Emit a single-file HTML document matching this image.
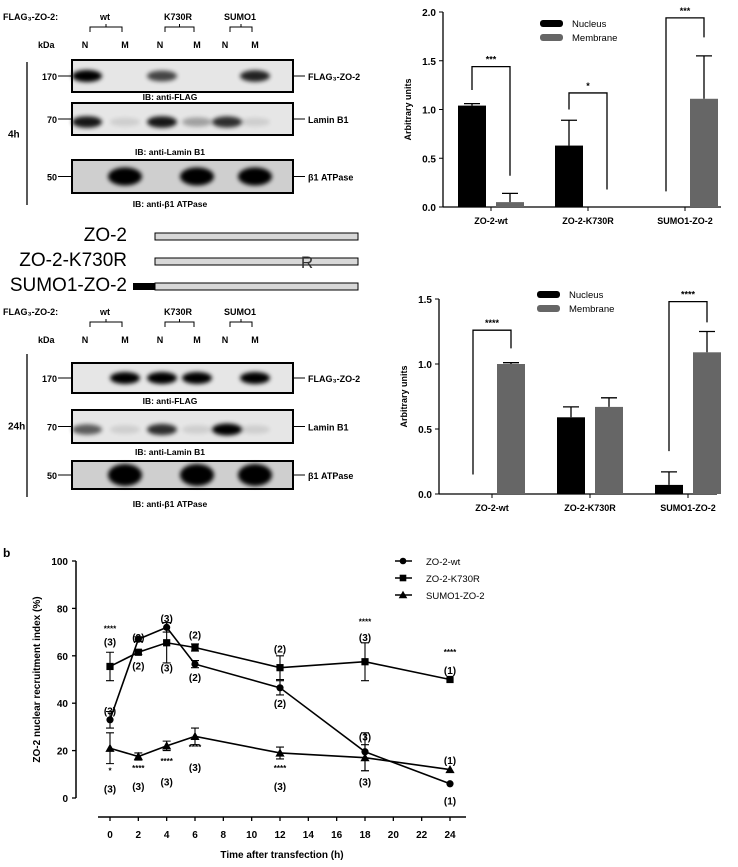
<!DOCTYPE html>
<html><head><meta charset="utf-8"><style>
body{margin:0;background:#fff;}
svg text{font-family:"Liberation Sans",sans-serif;font-weight:bold;}
</style></head><body>
<svg id="fig" width="738" height="862" viewBox="0 0 738 862" xmlns="http://www.w3.org/2000/svg">
<defs>
<filter id="bl" x="-30%" y="-100%" width="160%" height="300%"><feGaussianBlur stdDeviation="2.2"/></filter>
</defs>
<g id="blots"></g>
<g id="diagram">
<text x="127" y="241" font-size="19" text-anchor="end" style="font-weight:normal">ZO-2</text>
<rect x="155" y="233" width="203" height="7" fill="#d8d8d8" stroke="#000" stroke-width="1"/>
<text x="127" y="266" font-size="19" text-anchor="end" style="font-weight:normal">ZO-2-K730R</text>
<rect x="155" y="258" width="203" height="7" fill="#d8d8d8" stroke="#000" stroke-width="1"/>
<text x="307" y="268" font-size="17" text-anchor="middle" fill="#333" style="font-weight:normal">R</text>
<text x="127" y="291" font-size="19" text-anchor="end" style="font-weight:normal">SUMO1-ZO-2</text>
<rect x="155" y="283" width="203" height="7" fill="#d8d8d8" stroke="#000" stroke-width="1"/>
<rect x="133" y="283" width="22" height="7" fill="#000"/>
</g>
<g id="bar1"></g>
<g id="bar2"></g>
<g id="line"></g>
</svg>
<script>
const NS="http://www.w3.org/2000/svg";
function mk(p,tag,a,txt){const e=document.createElementNS(NS,tag);for(const k in a)e.setAttribute(k,a[k]);if(txt!==undefined)e.textContent=txt;p.appendChild(e);return e;}

/* ---------- Blots ---------- */
const blots=document.getElementById('blots');
const laneX=[85,125,160,197,225,255];
const blotRows4=[60,103,160];
const blotRows24=[363,410,461];
const ibY4=[100,155,207];
const ibY24=[404,455,507];
const blotLabels=['FLAG\u2083-ZO-2','Lamin B1','\u03b21 ATPase'];
const ibLabels=['IB: anti-FLAG','IB: anti-Lamin B1','IB: anti-\u03b21 ATPase'];
const kda=['170','70','50'];
const bands4=[[1,0,0.7,0,0,0.85],[0.9,0.1,0.9,0.3,0.8,0.1],[0,1,0,1,0,1]];
const bands24=[[0,1,1,1,0,1],[0.6,0.1,0.8,0.1,1,0.1],[0,1,0,1,0,1]];
const bandH=[[8,8,14],[8,8,18]];
function drawBlot(rows,ibY,hts,bands,h,lbl,lineTop,lineBot,hdrY){
  const g=mk(blots,'g',{});
  
  
  mk(g,'text',{x:3,y:hdrY,'font-size':9},'FLAG\u2083-ZO-2:');
  const grp=[['wt',105],['K730R',178],['SUMO1',240]];
  grp.forEach((gg,i)=>{mk(g,'text',{x:gg[1],y:hdrY,'font-size':9,'text-anchor':'middle'},gg[0]);
    const a=laneX[i*2]+5,b=laneX[i*2+1]-3;
    mk(g,'path',{d:`M${a} ${hdrY+12}V${hdrY+7}H${b}V${hdrY+12}M${(a+b)/2} ${hdrY+7}V${hdrY+4}`,fill:'none',stroke:'#000','stroke-width':1});});
  mk(g,'text',{x:38,y:hdrY+28,'font-size':9},'kDa');
  laneX.forEach((x,i)=>mk(g,'text',{x:x,y:hdrY+28,'font-size':9,'text-anchor':'middle'},i%2?'M':'N'));
  mk(g,'line',{x1:27,y1:lineTop,x2:27,y2:lineBot,stroke:'#000','stroke-width':1.3});
  mk(g,'text',{x:8,y:(lineTop+lineBot)/2+4,'font-size':10},lbl);
  rows.forEach((ry,r)=>{
    const hh=hts[r];
    mk(g,'rect',{x:72,y:ry,width:221,height:hh,fill:r==2?'#cfcfcf':'#e6e6e6',stroke:'#000','stroke-width':2});
    bands[r].forEach((v,i)=>{if(v>0)mk(g,'ellipse',{cx:laneX[i]+(i%2?0:2),cy:ry+hh/2+(r==1?3:0),rx:r==2?17:15,ry:h[r]/2+v*2,fill:'#000',opacity:v,filter:'url(#bl)'});});
    mk(g,'text',{x:57,y:ry+hh/2+4,'font-size':9,'text-anchor':'end'},kda[r]);
    mk(g,'line',{x1:58,y1:ry+hh/2,x2:72,y2:ry+hh/2,stroke:'#000','stroke-width':1});
    mk(g,'line',{x1:293,y1:ry+hh/2,x2:305,y2:ry+hh/2,stroke:'#000','stroke-width':1});
    mk(g,'text',{x:308,y:ry+hh/2+4,'font-size':9},blotLabels[r]);
    mk(g,'text',{x:170,y:ibY[r],'font-size':8.5,'text-anchor':'middle'},ibLabels[r]);
  });
}
drawBlot(blotRows4,ibY4,[32,32,33],bands4,bandH[0],'4h',62,205,20);
drawBlot(blotRows24,ibY24,[30,33,28],bands24,bandH[1],'24h',354,497,315);

/* ---------- Bar charts ---------- */
const barCats=['ZO-2-wt','ZO-2-K730R','SUMO1-ZO-2'];
const nuc4=[1.04,0.63,0];
const nuc4Err=[0.02,0.26,0];
const mem4=[0.05,0,1.11];
const mem4Err=[0.09,0,0.44];
const ticks4=['0.0','0.5','1.0','1.5','2.0'];
const nuc24=[0,0.59,0.07];
const nuc24Err=[0,0.08,0.10];
const mem24=[1.0,0.67,1.09];
const mem24Err=[0.01,0.07,0.16];
const ticks24=['0.0','0.5','1.0','1.5'];
const sig4=['***','*','***'];
const sig24=['****','','****'];
function barChart(gid,o,nuc,nE,mem,mE,ticks,sig,brk){
  const g=document.getElementById(gid);
  const max=parseFloat(ticks[ticks.length-1]);
  const y=v=>o.y0-(v/max)*(o.y0-o.yt);
  const x=i=>o.x0+o.c0+i*o.step;
  mk(g,'line',{x1:o.x0,y1:o.yt,x2:o.x0,y2:o.y0,stroke:'#000','stroke-width':1.3});
  mk(g,'line',{x1:o.x0,y1:o.y0,x2:o.x0+278,y2:o.y0,stroke:'#000','stroke-width':1.3});
  ticks.forEach(t=>{const yy=y(parseFloat(t));mk(g,'line',{x1:o.x0-4,y1:yy,x2:o.x0,y2:yy,stroke:'#000'});
    mk(g,'text',{x:o.x0-7,y:yy+4,'font-size':10,'text-anchor':'end'},t);});
  mk(g,'text',{x:0,y:0,'font-size':9,'text-anchor':'middle',transform:`translate(${o.x0-32},${(o.yt+o.y0)/2}) rotate(-90)`},'Arbitrary units');
  barCats.forEach((c,i)=>{
    const cx=x(i);
    mk(g,'line',{x1:cx,y1:o.y0,x2:cx,y2:o.y0+4,stroke:'#000'});
    const tl=mk(g,'text',{x:cx,y:o.y0+17,'font-size':9,'text-anchor':'middle'},c);
    
    
    [[nuc,nE,'#000',-1],[mem,mE,'#666',1]].forEach(s=>{
      const v=s[0][i],e=s[1][i];const bx=cx+s[3]*19-14;
      if(v>0){const r=mk(g,'rect',{x:bx,y:y(v),width:28,height:o.y0-y(v),fill:s[2]});
        
        }
      if(e>0){mk(g,'path',{d:`M${bx+14} ${y(v)}V${y(v+e)}M${bx+6} ${y(v+e)}H${bx+22}`,stroke:'#000','stroke-width':1.3,fill:'none'});}
    });
    if(sig[i]){const b=brk[i];
      mk(g,'path',{d:`M${cx-19} ${y(b[0])}V${y(b[2])}H${cx+19}V${y(b[1])}`,stroke:'#000','stroke-width':1.3,fill:'none'});
      mk(g,'text',{x:cx,y:y(b[2])-4,'font-size':9,'text-anchor':'middle'},sig[i]);}
  });
  const lg=mk(g,'g',{});
  
  
  mk(lg,'rect',{x:o.lx,y:o.ly,width:23,height:7,rx:3,fill:'#000'});
  mk(lg,'text',{x:o.lx+32,y:o.ly+7,'font-size':9.5,style:'font-weight:normal'},'Nucleus');
  mk(lg,'rect',{x:o.lx,y:o.ly+14,width:23,height:7,rx:3,fill:'#666'});
  mk(lg,'text',{x:o.lx+32,y:o.ly+21,'font-size':9.5,style:'font-weight:normal'},'Membrane');
}
barChart('bar1',{x0:443,y0:207,yt:12,c0:48,step:97,lx:540,ly:20},nuc4,nuc4Err,mem4,mem4Err,ticks4,sig4,[[1.2,0.32,1.44],[1.0,0.18,1.17],[0.16,1.74,1.94]]);
barChart('bar2',{x0:439,y0:494,yt:299,c0:53,step:98,lx:537,ly:291},nuc24,nuc24Err,mem24,mem24Err,ticks24,sig24,[[0.15,1.12,1.26],[0,0,0],[0.33,1.32,1.48]]);

/* ---------- Line chart ---------- */
const times=[0,2,4,6,12,18,24];
const wt=[33,67,72,56.5,46.5,19.5,6];
const wtErr=[3.5,1,2,1.5,3,8,0];
const k730=[55.5,61.5,65.5,63.5,55,57.5,50];
const k730Err=[6,1,8.5,1.5,5,8,0];
const sumo=[21,17.5,22,26,19,17,12];
const sumoErr=[6.5,1.5,2,3.5,2.5,5.5,0];
const yTicks=[0,20,40,60,80,100];
const xTicks=[0,2,4,6,8,10,12,14,16,18,20,22,24];
const annots=[[0,72,'****'],[0,66,'(3)'],[0,37,'(3)'],[0,12,'*'],[0,4,'(3)'],
 [2,68,'(2)'],[2,56,'(2)'],[2,13,'****'],[2,5,'(3)'],
 [4,76,'(3)'],[4,55,'(3)'],[4,16,'****'],[4,7,'(3)'],
 [6,69,'(2)'],[6,51,'(2)'],[6,22,'****'],[6,13,'(3)'],
 [12,63,'(2)'],[12,40,'(2)'],[12,13,'****'],[12,5,'(3)'],
 [18,75,'****'],[18,68,'(3)'],[18,26,'(3)'],[18,7,'(3)'],
 [24,62,'****'],[24,54,'(1)'],[24,16,'(1)'],[24,-1,'(1)']];
(function(){
  const g=document.getElementById('line');
  const X=t=>110+t*(340/24), Y=v=>798-v*(237/100);
  mk(g,'text',{x:3,y:557,'font-size':12},'b');
  mk(g,'line',{x1:76,y1:Y(100),x2:76,y2:Y(0),stroke:'#000','stroke-width':1.5});
  yTicks.forEach(t=>{mk(g,'line',{x1:72,y1:Y(t),x2:76,y2:Y(t),stroke:'#000','stroke-width':1.3});
    mk(g,'text',{x:68,y:Y(t)+4,'font-size':10,'text-anchor':'end'},t);});
  mk(g,'line',{x1:98,y1:817,x2:466,y2:817,stroke:'#000','stroke-width':1.5});
  xTicks.forEach(t=>{mk(g,'line',{x1:X(t),y1:817,x2:X(t),y2:821,stroke:'#000','stroke-width':1.3});
    mk(g,'text',{x:X(t),y:838,'font-size':10,'text-anchor':'middle'},t);});
  mk(g,'text',{x:282,y:858,'font-size':10,'text-anchor':'middle'},'Time after transfection (h)');
  mk(g,'text',{x:0,y:0,'font-size':10,'text-anchor':'middle',transform:`translate(40,${Y(50)}) rotate(-90)`},'ZO-2 nuclear recruitment index (%)');
  const series=[[wt,wtErr,'circle','ZO-2-wt'],[k730,k730Err,'square','ZO-2-K730R'],[sumo,sumoErr,'tri','SUMO1-ZO-2']];
  function marker(p,type,cx,cy,s){
    if(type==='circle')return mk(p,'circle',{cx:cx,cy:cy,r:s,fill:'#000'});
    if(type==='square')return mk(p,'rect',{x:cx-s,y:cy-s,width:2*s,height:2*s,fill:'#000'});
    return mk(p,'path',{d:`M${cx} ${cy-s-1}L${cx+s+1} ${cy+s}H${cx-s-1}Z`,fill:'#000'});
  }
  series.forEach((s,si)=>{
    const sg=mk(g,'g',{});
    
    
    mk(sg,'polyline',{points:times.map((t,i)=>X(t)+','+Y(s[0][i])).join(' '),fill:'none',stroke:'#000','stroke-width':1.6});
    times.forEach((t,i)=>{const e=s[1][i];
      if(e>0)mk(sg,'path',{d:`M${X(t)} ${Y(s[0][i]-e)}V${Y(s[0][i]+e)}M${X(t)-4} ${Y(s[0][i]-e)}H${X(t)+4}M${X(t)-4} ${Y(s[0][i]+e)}H${X(t)+4}`,stroke:'#000','stroke-width':1.1,fill:'none'});
      const m=marker(sg,s[2],X(t),Y(s[0][i]),3.6);
      
      });
    const ly=561+si*17;
    mk(sg,'line',{x1:395,y1:ly,x2:412,y2:ly,stroke:'#000','stroke-width':1.6});
    marker(sg,s[2],403,ly,3.3);
    mk(sg,'text',{x:426,y:ly+4,'font-size':9.5,style:'font-weight:normal'},s[3]);
  });
  annots.forEach(a=>{mk(g,'text',{x:X(a[0]),y:Y(a[1])+4,'font-size':a[2][0]==='*'?8:10,'text-anchor':'middle'},a[2]);});
})();
</script>
</body></html>
